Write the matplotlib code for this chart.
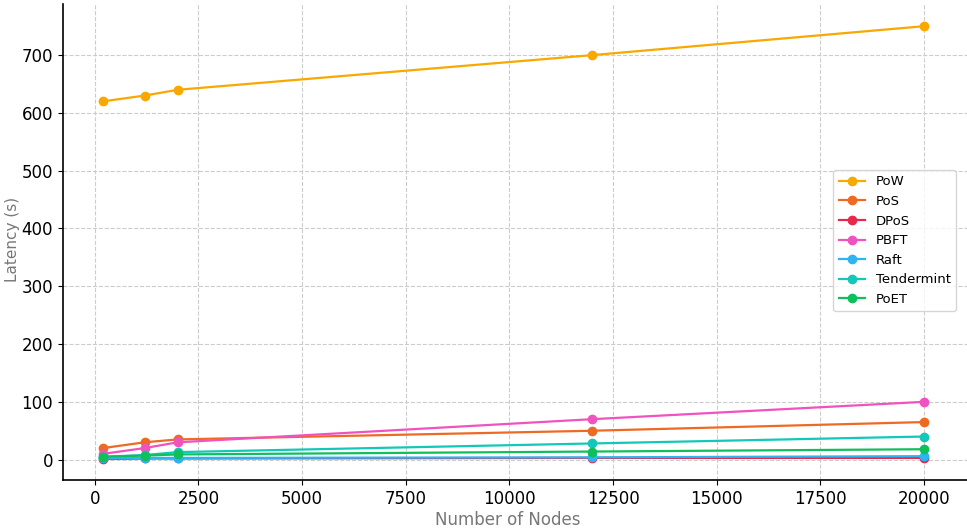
import matplotlib.pyplot as plt

nodes = [200, 1200, 2000, 12000, 20000]

pow_lat = [620, 630, 640, 700, 750]
pos_lat = [20, 30, 35, 50, 65]
dpos_lat = [1, 2, 2, 3, 3]
pbft_lat = [10, 20, 30, 70, 100]
raft_lat = [2, 3, 3, 4, 6]
tendermint_lat = [5, 8, 13, 28, 40]
poet_lat = [5, 7, 9, 14, 18]

series = [
    ('PoW', pow_lat, '#F8A800'),
    ('PoS', pos_lat, '#EE6A24'),
    ('DPoS', dpos_lat, '#E8274B'),
    ('PBFT', pbft_lat, '#F052C0'),
    ('Raft', raft_lat, '#2BB5F2'),
    ('Tendermint', tendermint_lat, '#12C8B8'),
    ('PoET', poet_lat, '#10BF5C'),
]

fig = plt.figure(figsize=(9.67, 5.32), dpi=100)
ax = fig.add_axes([0.065, 0.098, 0.935, 0.894])

for name, vals, color in series:
    ax.plot(nodes, vals, marker='o', markersize=6, linewidth=1.6, color=color, label=name)

ax.set_xlim(-772, 21040)
ax.set_ylim(-35, 788)
ax.set_xticks(range(0, 20001, 2500))
ax.set_yticks(range(0, 701, 100))
ax.tick_params(labelsize=12)

ax.grid(True, linestyle='--', color='#cccccc', linewidth=0.8)
ax.spines['top'].set_visible(False)
ax.spines['right'].set_visible(False)
ax.spines['left'].set_linewidth(1.2)
ax.spines['bottom'].set_linewidth(1.2)

# axis labels placed in figure coords so they stay inside the canvas
fig.text(0.525, 0.022, 'Number of Nodes', fontsize=12, color='#777777',
         ha='center', va='center')
fig.text(0.013, 0.55, 'Latency (s)', fontsize=11, color='#777777',
         ha='center', va='center', rotation=90)

ax.legend(loc='upper right', bbox_to_anchor=(0.995, 0.665), fontsize=9.5)

fig.savefig('out.png', dpi=100)
